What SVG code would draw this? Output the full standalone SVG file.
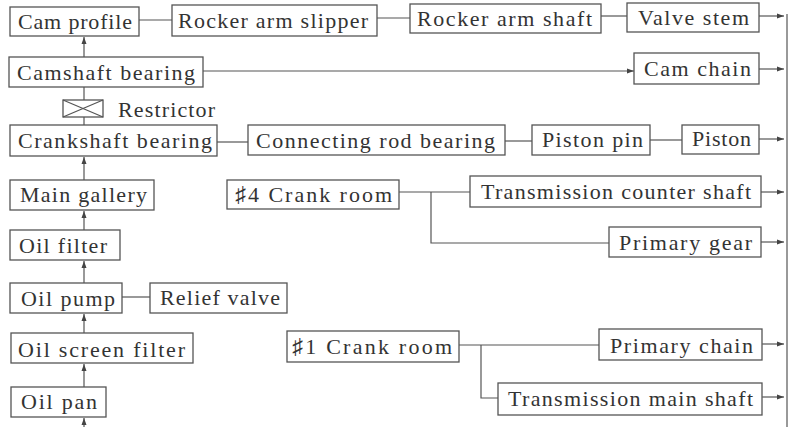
<svg xmlns="http://www.w3.org/2000/svg" width="790" height="427" viewBox="0 0 790 427">
<defs>
<style>
.b{fill:#fff;stroke:#555;stroke-width:1.3}
.t{font-family:"Liberation Serif","Times New Roman",serif;font-size:22px;fill:#333}
.c{fill:none;stroke:#555;stroke-width:1.2}
</style>
<marker id="ar" markerUnits="userSpaceOnUse" markerWidth="8" markerHeight="6" refX="7" refY="3" orient="auto">
<path d="M0,0.5 L7,3 L0,5.5 z" fill="#444"/>
</marker>
</defs>
<rect width="790" height="427" fill="#fff"/>
<g id="connectors">
<line class="c" x1="139" y1="20" x2="172" y2="20"/>
<line class="c" x1="377" y1="18" x2="410" y2="18"/>
<line class="c" x1="601" y1="16" x2="627" y2="16"/>
<line class="c" x1="759" y1="16" x2="784" y2="16" marker-end="url(#ar)"/>
<line class="c" x1="203" y1="71" x2="634" y2="71" marker-end="url(#ar)"/>
<line class="c" x1="759" y1="69" x2="784" y2="69" marker-end="url(#ar)"/>
<line class="c" x1="84" y1="57" x2="84" y2="37" marker-end="url(#ar)"/>
<line class="c" x1="84" y1="87" x2="84" y2="100"/>
<line class="c" x1="84" y1="117" x2="84" y2="125"/>
<line class="c" x1="217" y1="142" x2="248" y2="142"/>
<line class="c" x1="505" y1="141" x2="532" y2="141"/>
<line class="c" x1="650" y1="140" x2="682" y2="140"/>
<line class="c" x1="759" y1="139" x2="784" y2="139" marker-end="url(#ar)"/>
<line class="c" x1="84" y1="180" x2="84" y2="157" marker-end="url(#ar)"/>
<polyline class="c" points="399,192 470,192"/>
<polyline class="c" points="431,192 431,243 609,243"/>
<line class="c" x1="761" y1="192" x2="784" y2="192" marker-end="url(#ar)"/>
<line class="c" x1="761" y1="242" x2="784" y2="242" marker-end="url(#ar)"/>
<line class="c" x1="84" y1="230" x2="84" y2="211" marker-end="url(#ar)"/>
<line class="c" x1="84" y1="283" x2="84" y2="261" marker-end="url(#ar)"/>
<line class="c" x1="122" y1="297" x2="150" y2="297"/>
<line class="c" x1="84" y1="333" x2="84" y2="314" marker-end="url(#ar)"/>
<line class="c" x1="84" y1="387" x2="84" y2="364" marker-end="url(#ar)"/>
<line class="c" x1="84" y1="427" x2="84" y2="418" marker-end="url(#ar)"/>
<polyline class="c" points="459,345 599,345"/>
<polyline class="c" points="481,345 481,398 498,398"/>
<line class="c" x1="762" y1="344" x2="784" y2="344" marker-end="url(#ar)"/>
<line class="c" x1="762" y1="397" x2="784" y2="397" marker-end="url(#ar)"/>
<line class="c" x1="787" y1="14" x2="787" y2="427"/>
</g>
<g id="cam-profile"><rect class="b" x="10" y="7" width="129" height="29"/><text class="t" x="18" y="29" textLength="114">Cam profile</text></g>
<g id="rocker-arm-slipper"><rect class="b" x="172" y="5" width="205" height="31"/><text class="t" x="178" y="28" textLength="190">Rocker arm slipper</text></g>
<g id="rocker-arm-shaft"><rect class="b" x="410" y="4" width="191" height="29"/><text class="t" x="417" y="26" textLength="175">Rocker arm shaft</text></g>
<g id="valve-stem"><rect class="b" x="627" y="3" width="132" height="29"/><text class="t" x="638" y="25" textLength="111">Valve stem</text></g>
<g id="camshaft-bearing"><rect class="b" x="9" y="57" width="194" height="30"/><text class="t" x="17" y="80" textLength="178">Camshaft bearing</text></g>
<g id="cam-chain"><rect class="b" x="634" y="53" width="125" height="31"/><text class="t" x="644" y="76" textLength="107">Cam chain</text></g>
<g id="restrictor"><rect class="b" x="63" y="100" width="40" height="17"/><path class="c" d="M63,100 L103,117 M103,100 L63,117"/><text class="t" x="118" y="117" textLength="97">Restrictor</text></g>
<g id="crankshaft-bearing"><rect class="b" x="10" y="125" width="207" height="31"/><text class="t" x="18" y="148" textLength="194">Crankshaft bearing</text></g>
<g id="connecting-rod-bearing"><rect class="b" x="248" y="125" width="257" height="30"/><text class="t" x="256" y="148" textLength="239">Connecting rod bearing</text></g>
<g id="piston-pin"><rect class="b" x="532" y="125" width="118" height="30"/><text class="t" x="542" y="147" textLength="101">Piston pin</text></g>
<g id="piston"><rect class="b" x="682" y="125" width="77" height="29"/><text class="t" x="692" y="146" textLength="59">Piston</text></g>
<g id="main-gallery"><rect class="b" x="10" y="180" width="144" height="30"/><text class="t" x="20" y="202" textLength="127">Main gallery</text></g>
<g id="crank-room-4"><rect class="b" x="227" y="180" width="172" height="29"/><text class="t" x="235" y="202" textLength="157">♯4 Crank room</text></g>
<g id="transmission-counter-shaft"><rect class="b" x="470" y="176" width="291" height="31"/><text class="t" x="481" y="199" textLength="270">Transmission counter shaft</text></g>
<g id="primary-gear"><rect class="b" x="609" y="227" width="152" height="30"/><text class="t" x="619" y="250" textLength="133">Primary gear</text></g>
<g id="oil-filter"><rect class="b" x="10" y="230" width="110" height="30"/><text class="t" x="19" y="253" textLength="88">Oil filter</text></g>
<g id="oil-pump"><rect class="b" x="10" y="283" width="112" height="30"/><text class="t" x="21" y="306" textLength="94">Oil pump</text></g>
<g id="relief-valve"><rect class="b" x="150" y="283" width="137" height="30"/><text class="t" x="160" y="305" textLength="120">Relief valve</text></g>
<g id="oil-screen-filter"><rect class="b" x="11" y="333" width="182" height="30"/><text class="t" x="18" y="357" textLength="167">Oil screen filter</text></g>
<g id="oil-pan"><rect class="b" x="11" y="387" width="95" height="30"/><text class="t" x="21" y="409" textLength="76">Oil pan</text></g>
<g id="crank-room-1"><rect class="b" x="287" y="331" width="172" height="31"/><text class="t" x="292" y="354" textLength="160">♯1 Crank room</text></g>
<g id="primary-chain"><rect class="b" x="599" y="329" width="163" height="31"/><text class="t" x="610" y="353" textLength="143">Primary chain</text></g>
<g id="transmission-main-shaft"><rect class="b" x="498" y="383" width="264" height="32"/><text class="t" x="508" y="406" textLength="245">Transmission main shaft</text></g>
</svg>
